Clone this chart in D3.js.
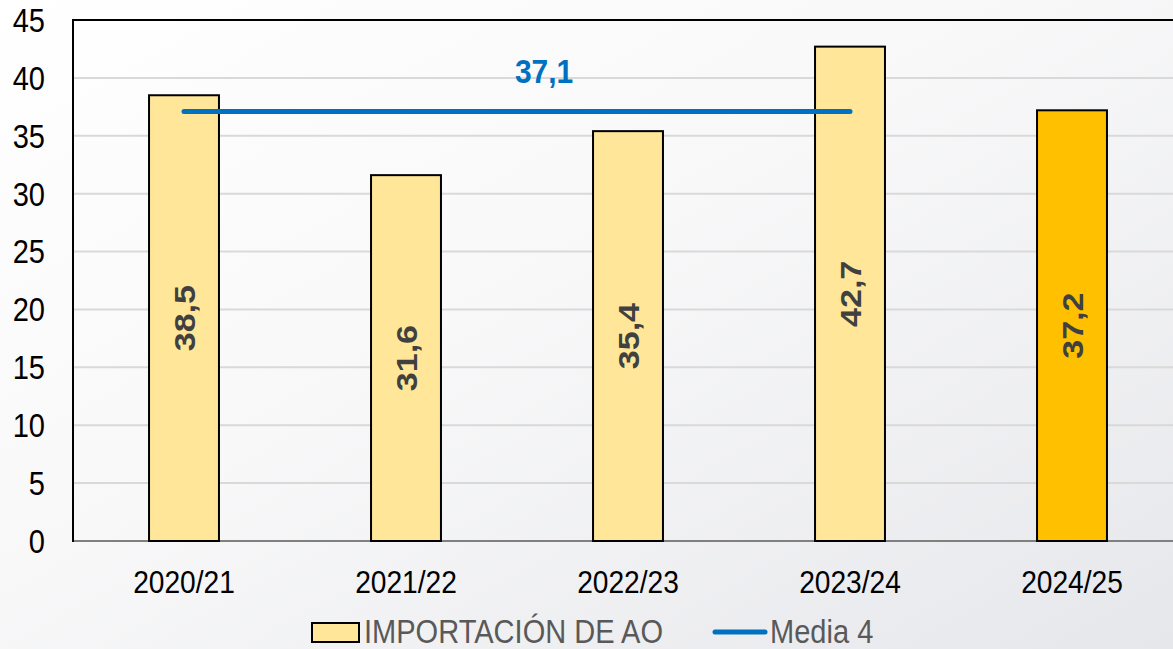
<!DOCTYPE html>
<html>
  <head>
    <meta charset="utf-8">
    <script src="https://d3js.org/d3.v7.min.js"></script>
    <style>
      body { margin: 0; overflow: hidden; }
      svg { display: block; font-family: "Liberation Sans", Arial, sans-serif; }
    </style>
  </head>
  <body>
    <svg width="1173" height="649"></svg>
    <script>
      // data
      var categories = ['2020/21', '2021/22', '2022/23', '2023/24', '2024/25'];
      var importacion = [38.5, 31.6, 35.4, 42.7, 37.2];
      var mediaValue = 37.1;
      var mediaCategories = ['2020/21', '2021/22', '2022/23', '2023/24'];
      var yTicks = [0, 5, 10, 15, 20, 25, 30, 35, 40, 45];
      var legendLabels = ['IMPORTACIÓN DE AO', 'Media 4'];

      var squeeze = 'scale(0.88,1)';   // the source picture is a bit narrow
      var svg = d3.select('svg');

      var defs = svg.append('defs');
      var grad = defs.append('linearGradient')
        .attr('id', 'bg').attr('x1', 0).attr('y1', 0).attr('x2', 1).attr('y2', 1);
      grad.append('stop').attr('offset', '0%').attr('stop-color', '#ffffff');
      grad.append('stop').attr('offset', '45%').attr('stop-color', '#f8f8f9');
      grad.append('stop').attr('offset', '100%').attr('stop-color', '#e6e7eb');
      svg.append('rect').attr('width', 1173).attr('height', 649).attr('fill', 'url(#bg)');

      var x = d3.scaleBand().domain(categories).range([73, 1183])
        .paddingInner(0.685).paddingOuter(0.3425);
      var y = d3.scaleLinear().domain([0, 45]).range([541, 20]);

      // grid
      svg.selectAll('.grid').data(yTicks.slice(1, -1)).enter().append('line')
        .attr('x1', 73).attr('x2', 1183)
        .attr('y1', d => y(d)).attr('y2', d => y(d))
        .attr('stroke', '#d9d9d9').attr('stroke-width', 2);

      // frame
      svg.append('line').attr('x1', 73).attr('x2', 1183).attr('y1', y(0)).attr('y2', y(0))
        .attr('stroke', '#808080').attr('stroke-width', 2);
      svg.append('line').attr('x1', 72).attr('x2', 1183).attr('y1', y(45)).attr('y2', y(45))
        .attr('stroke', '#000').attr('stroke-width', 2);
      svg.append('line').attr('x1', 73).attr('x2', 73).attr('y1', y(45)).attr('y2', y(0) + 1)
        .attr('stroke', '#000').attr('stroke-width', 2);

      // bars
      svg.selectAll('.bar').data(importacion).enter().append('rect')
        .attr('x', (d, i) => x(categories[i]))
        .attr('width', x.bandwidth())
        .attr('y', d => y(d))
        .attr('height', d => y(0) - y(d))
        .attr('fill', (d, i) => i == categories.length - 1 ? '#ffc000' : '#ffe699')
        .attr('stroke', '#000').attr('stroke-width', 2);

      // bar labels
      svg.selectAll('.lbl').data(importacion).enter().append('text')
        .attr('transform', (d, i) => 'translate(' + (x(categories[i]) + x.bandwidth() / 2) + ',' +
          ((y(d) + y(0)) / 2) + ') ' + squeeze + ' rotate(-90)')
        .attr('text-anchor', 'middle').attr('dy', '0.36em')
        .style('font-size', '34px').style('font-weight', 'bold').style('fill', '#404040')
        .text(d => String(d).replace('.', ','));

      // media line
      var line = d3.line().x(d => x(d) + x.bandwidth() / 2).y(() => y(mediaValue));
      svg.append('path').datum(mediaCategories).attr('d', line)
        .attr('fill', 'none').attr('stroke', '#0070c0').attr('stroke-width', 5)
        .attr('stroke-linecap', 'round');
      var midX = (x(mediaCategories[0]) + x(mediaCategories[3])) / 2 + x.bandwidth() / 2;
      svg.append('text')
        .attr('transform', 'translate(' + (midX + 27) + ',' + (y(mediaValue) - 28) + ') ' + squeeze)
        .attr('text-anchor', 'middle')
        .style('font-size', '34px').style('font-weight', 'bold').style('fill', '#0070c0')
        .text(String(mediaValue).replace('.', ','));

      // y tick labels
      svg.selectAll('.yt').data(yTicks).enter().append('text')
        .attr('transform', d => 'translate(45,' + y(d) + ') ' + squeeze)
        .attr('text-anchor', 'end').attr('dy', '0.36em')
        .style('font-size', '33px').style('fill', '#000')
        .text(d => d);

      // x tick labels
      svg.selectAll('.xt').data(categories).enter().append('text')
        .attr('transform', d => 'translate(' + (x(d) + x.bandwidth() / 2) + ',593) ' + squeeze)
        .attr('text-anchor', 'middle')
        .style('font-size', '32px').style('fill', '#000')
        .text(d => d);

      // legend
      svg.append('rect').attr('x', 312).attr('y', 623).attr('width', 47).attr('height', 19)
        .attr('fill', '#ffe699').attr('stroke', '#000').attr('stroke-width', 2);
      svg.append('text').attr('transform', 'translate(364,643) ' + squeeze)
        .style('font-size', '33px').style('fill', '#595959').text(legendLabels[0]);
      svg.append('line').attr('x1', 715).attr('x2', 765).attr('y1', 632).attr('y2', 632)
        .attr('stroke', '#0070c0').attr('stroke-width', 5).attr('stroke-linecap', 'round');
      svg.append('text').attr('transform', 'translate(770,643) ' + squeeze)
        .style('font-size', '33px').style('fill', '#595959').text(legendLabels[1]);
    </script>
  </body>
</html>
